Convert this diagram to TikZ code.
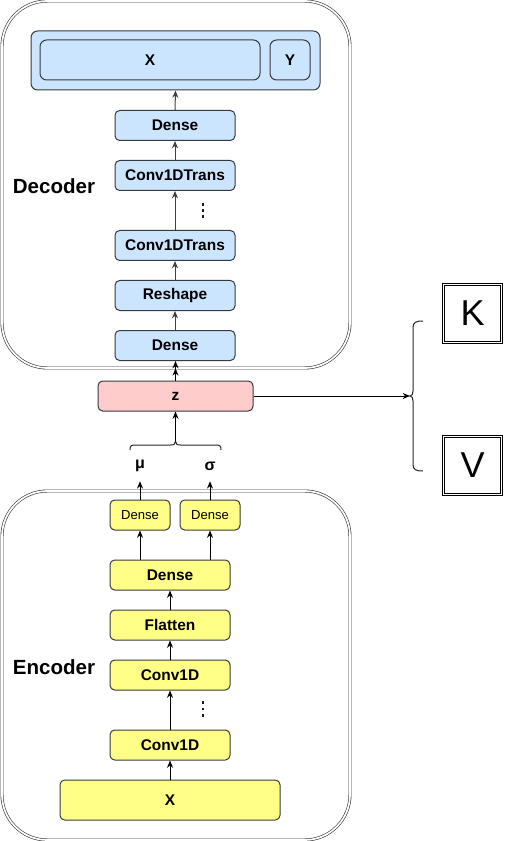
\documentclass[tikz,border=0pt]{standalone}
\usepackage{fontspec}
\setmainfont{Liberation Sans}
\usetikzlibrary{arrows.meta}
\definecolor{bfill}{HTML}{CCE5FF}
\definecolor{yfill}{HTML}{FFFF88}
\definecolor{zfill}{HTML}{FFCCCC}
\definecolor{bord}{HTML}{36393D}
\begin{document}
\begin{tikzpicture}[x=0.75pt,y=-0.75pt,
  box/.style={draw=bord, line width=0.75pt, rounded corners=3.5pt, inner sep=0pt,
    font=\bfseries\fontsize{11.6}{13}\selectfont, minimum height=22.5pt},
  bbox/.style={box, fill=bfill},
  ybox/.style={box, fill=yfill},
  zbox/.style={box, fill=zfill},
  outer/.style={draw=black!80, line width=0.45pt, double, double distance=1.3pt, rounded corners=34pt},
  sq/.style={draw=black, line width=0.55pt, double, double distance=1.3pt, inner sep=0pt,
    minimum width=43.5pt, minimum height=43.5pt, font=\fontsize{27}{30}\selectfont},
  arr/.style={-{Stealth[length=5.5pt,width=4.5pt]}, line width=0.75pt, black},
  garr/.style={arr, draw=black!75, -{Stealth[length=5.5pt,width=4.5pt,fill=black!75]}},
  lbl/.style={font=\bfseries\fontsize{15.4}{17}\selectfont, inner sep=0pt},
  greek/.style={font=\bfseries\fontsize{12}{13}\selectfont, inner sep=0pt, minimum height=22.5pt},
  brace/.style={draw=black!85, line width=0.75pt},
  dot/.style={fill=black!90}]
\useasboundingbox (0,0) rectangle (504,841);
% ---- Decoder ----
\node[outer, minimum width=261pt, minimum height=275.25pt] (dec) at (176,184.5) {};
\node[lbl] (declbl) at (54,186) {Decoder};
\node[bbox, minimum width=216.75pt, minimum height=44.25pt, rounded corners=5pt] (out) at (175.5,60.5) {};
\node[bbox, minimum width=165pt, minimum height=30pt, rounded corners=5pt] (ox) at (150,60) {X};
\node[bbox, minimum width=30pt, minimum height=30pt, rounded corners=5pt] (oy) at (290,60) {Y};
\node[bbox, minimum width=90pt] (dd2) at (175,125.5) {Dense};
\node[bbox, minimum width=90pt] (dt2) at (175,175.5) {Conv1DTrans};
\node[bbox, minimum width=90pt] (dt1) at (175,245.5) {Conv1DTrans};
\node[bbox, minimum width=90pt] (drs) at (175,295.5) {Reshape};
\node[bbox, minimum width=90pt] (dd1) at (175,345.5) {Dense};
\foreach \yy in {204.5,210.5,216.5} \fill[dot] (201.8,\yy-1.2) rectangle ++(2.6,2.6);
\draw[garr] (dd1.north) -- (drs.south);
\draw[garr] (drs.north) -- (dt1.south);
\draw[garr] (dt1.north) -- (dt2.south);
\draw[garr] (dt2.north) -- (dd2.south);
\draw[garr] (dd2.north) -- (out.south);
% ---- z ----
\node[zbox, minimum width=116.25pt] (z) at (175.5,396) {z};
\draw[arr] (z.north) -- (dec.south -| z.north);
\draw[arr] (z.north) -- (dd1.south -| z.north);
% brace under z
\coordinate (btip) at (175.5,441);
\draw[brace] (130,450) .. controls (130,446) and (131,445) .. (135,445) -- (170.5,445)
  .. controls (174,445) and (175.5,444) .. (btip)
  .. controls (175.5,444) and (177,445) .. (180.5,445) -- (216,445)
  .. controls (220,445) and (221,446) .. (221,450);
\draw[arr] (btip) -- (z.south -| btip);
% right brace
\coordinate (rtip) at (410,396);
\draw[brace] (423,321) .. controls (416,321) and (413,322) .. (413,328) -- (413,391)
  .. controls (413,394) and (412,396) .. (rtip)
  .. controls (412,396) and (413,398) .. (413,401) -- (413,464)
  .. controls (413,470) and (416,471) .. (423,471);
\draw[arr] (z.east) -- (rtip);
\node[sq] (K) at (472.5,313.5) {K};
\node[sq] (V) at (472.5,465.5) {V};
% ---- Encoder ----
\node[outer, minimum width=261pt, minimum height=261.75pt] (enc) at (176,665.5) {};
\node[lbl] (enclbl) at (54,667) {Encoder};
\node[greek] (mu) at (140,466) {μ};
\node[greek] (sg) at (210,466) {σ};
\node[ybox, minimum width=45pt, font=\fontsize{9.8}{11}\selectfont] (emu) at (140,515) {Dense};
\node[ybox, minimum width=45pt, font=\fontsize{9.8}{11}\selectfont] (esg) at (210,515) {Dense};
\node[ybox, minimum width=90pt] (ed) at (170,575) {Dense};
\node[ybox, minimum width=90pt] (ef) at (170,625) {Flatten};
\node[ybox, minimum width=90pt] (ec2) at (170,675) {Conv1D};
\node[ybox, minimum width=90pt] (ec1) at (170,745) {Conv1D};
\node[ybox, minimum width=165pt, minimum height=30pt] (ex) at (170,800) {X};
\foreach \yy in {702.5,709,715.5} \fill[dot] (201.8,\yy-1.2) rectangle ++(2.6,2.6);
\draw[arr] (ex.north) -- (ec1.south);
\draw[arr] (ec1.north) -- (ec2.south);
\draw[arr] (ec2.north) -- (ef.south);
\draw[arr] (ef.north) -- (ed.south);
\draw[arr] (ed.north -| emu.south) -- (emu.south);
\draw[arr] (ed.north -| esg.south) -- (esg.south);
\draw[arr] (emu.north) -- (mu.south);
\draw[arr] (esg.north) -- (sg.south);
\end{tikzpicture}
\end{document}
